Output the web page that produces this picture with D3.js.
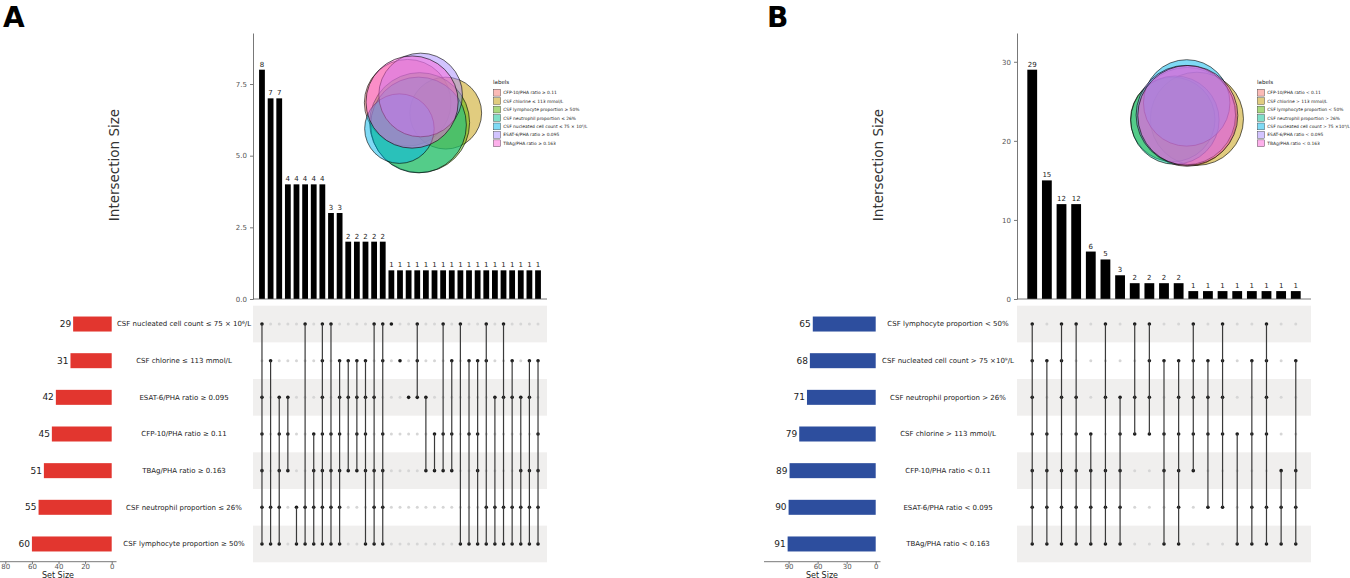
<!DOCTYPE html>
<html>
<head>
<meta charset="utf-8">
<script src="https://cdn.jsdelivr.net/npm/d3@7"></script>
<style>
body { margin: 0; background: #fff; }
text { font-family: "DejaVu Sans", Verdana, sans-serif; }
</style>
</head>
<body>
<svg width="1350" height="578"></svg>
<script>
// panel A : rows of the matrix, top to bottom
var setNamesA = ["CSF nucleated cell count \u2264 75 \u00d7 10\u2076/L", "CSF chlorine \u2264 113 mmol/L",
	"ESAT-6/PHA ratio \u2265 0.095", "CFP-10/PHA ratio \u2265 0.11", "TBAg/PHA ratio \u2265 0.163",
	"CSF neutrophil proportion \u2264 26%", "CSF lymphocyte proportion \u2265 50%"];
var setSizesA = [29, 31, 42, 45, 51, 55, 60];
var interCountsA = [8, 7, 7, 4, 4, 4, 4, 4, 3, 3, 2, 2, 2, 2, 2,
	1, 1, 1, 1, 1, 1, 1, 1, 1, 1, 1, 1, 1, 1, 1, 1, 1, 1];
var interSetsA = [
	[0,2,3,4,5,6], [1,5,6], [2,3,4,5,6], [2,3,4], [5,6], [0,5,6], [3,4,5,6], [0,1,2,3,4,5,6],
	[0,3,4,5,6], [1,2,3,4,5,6], [1,2,4], [1,2,3,4], [1,2,3,4,6], [0,2,4,5,6], [0,1,3,4,5,6],
	[0], [1], [2], [0,1,2], [2,4], [3,4], [0,3,4], [1,3,4], [0,6], [1,3,6], [1,3,4,6],
	[0,1,5,6], [2,5,6], [0,2,5,6], [1,2,5,6], [2,4,5,6], [1,2,4,5,6], [1,3,4,5,6]];
var yTicksA = [0, 2.5, 5, 7.5];
var sizeTicksA = [0, 20, 40, 60, 80];

// panel B
var setNamesB = ["CSF lymphocyte proportion < 50%", "CSF nucleated cell count > 75 \u00d710\u2079/L",
	"CSF neutrophil proportion > 26%", "CSF chlorine > 113 mmol/L", "CFP-10/PHA ratio < 0.11",
	"ESAT-6/PHA ratio < 0.095", "TBAg/PHA ratio < 0.163"];
var setSizesB = [65, 68, 71, 79, 89, 90, 91];
var interCountsB = [29, 15, 12, 12, 6, 5, 3, 2, 2, 2, 2, 1, 1, 1, 1, 1, 1, 1, 1];
var interSetsB = [
	[0,1,2,3,4,5,6], [1,3,4,5,6], [0,1,2,4,5,6], [0,2,3,4,5,6], [3,4,5,6], [0,2,4,5,6],
	[2,3,4,5,6], [0,2,3], [0,1,2,3], [1,3,4,6], [1,2,3,4,5,6], [0,1,2,3,4], [1,2,3,5],
	[0,1,2,3,5], [3,6], [1,3,5,6], [0,1,2,3,5,6], [4,5,6], [1,4,5,6]];
var yTicksB = [0, 10, 20, 30];
var sizeTicksB = [0, 30, 60, 90];

var hue = ["#F8766D", "#C49A00", "#53B400", "#00C094", "#00B6EB", "#A58AFF", "#FB61D7"];

var panels = [
	{letter: "A", names: setNamesA, sizes: setSizesA, counts: interCountsA, members: interSetsA,
	 yTicks: yTicksA, yFmt: ".1f", sizeTicks: sizeTicksA, sizeMax: 84, barColor: "#e2362f",
	 dx: 0, vennRot: 65, vennFlip: true},
	{letter: "B", names: setNamesB, sizes: setSizesB, counts: interCountsB, members: interSetsB,
	 yTicks: yTicksB, yFmt: "d", sizeTicks: sizeTicksB, sizeMax: 115.4, barColor: "#2d4e9e",
	 dx: 764, vennRot: 180, vennFlip: false}
];

var svg = d3.select("svg");

// --- euler layout: circle areas ~ set sizes, pair overlaps ~ pair counts
function overlapArea(r1, r2, d) {
	if (d >= r1 + r2) return 0;
	if (d <= Math.abs(r1 - r2)) return Math.PI * Math.min(r1, r2) * Math.min(r1, r2);
	var a = r1 * r1 * Math.acos((d * d + r1 * r1 - r2 * r2) / (2 * d * r1));
	var b = r2 * r2 * Math.acos((d * d + r2 * r2 - r1 * r1) / (2 * d * r2));
	var c = 0.5 * Math.sqrt((-d + r1 + r2) * (d + r1 - r2) * (d - r1 + r2) * (d + r1 + r2));
	return a + b - c;
}
function distanceFor(r1, r2, area) {
	var lo = Math.abs(r1 - r2), hi = r1 + r2;
	for (var k = 0; k < 60; k++) {
		var mid = (lo + hi) / 2;
		if (overlapArea(r1, r2, mid) > area) lo = mid; else hi = mid;
	}
	return (lo + hi) / 2;
}
function eulerLayout(sizes, counts, members) {
	var n = sizes.length;
	var r = sizes.map(function(s) { return Math.sqrt(s / Math.PI); });
	var pair = d3.range(n).map(function() { return d3.range(n).map(function() { return 0; }); });
	members.forEach(function(m, c) {
		m.forEach(function(i) { m.forEach(function(j) { if (i !== j) pair[i][j] += counts[c]; }); });
	});
	var dist = pair.map(function(row, i) {
		return row.map(function(v, j) { return i === j ? 0 : distanceFor(r[i], r[j], v); });
	});
	var pos = d3.range(n).map(function(i) {
		return [Math.cos(2 * Math.PI * i / n) * 0.5, Math.sin(2 * Math.PI * i / n) * 0.5];
	});
	for (var it = 0; it < 4000; it++) {
		var gr = pos.map(function() { return [0, 0]; });
		for (var i = 0; i < n; i++) for (var j = i + 1; j < n; j++) {
			var dx = pos[i][0] - pos[j][0], dy = pos[i][1] - pos[j][1];
			var cur = Math.sqrt(dx * dx + dy * dy) + 1e-9;
			var diff = cur - dist[i][j];
			if (pair[i][j] >= Math.min(sizes[i], sizes[j]) && diff < 0) diff = 0;
			if (pair[i][j] === 0 && diff > 0) diff = 0;
			gr[i][0] += diff * dx / cur; gr[i][1] += diff * dy / cur;
			gr[j][0] -= diff * dx / cur; gr[j][1] -= diff * dy / cur;
		}
		pos.forEach(function(q, i) { q[0] -= 0.08 * gr[i][0]; q[1] -= 0.08 * gr[i][1]; });
	}
	return {r: r, pos: pos};
}

panels.forEach(function(p) {
	var g = svg.append("g").attr("transform", "translate(" + p.dx + ",0)");
	var n = p.counts.length;
	var x = d3.scalePoint().domain(d3.range(n)).range([253, 547]).padding(1.04);
	var rowY = d3.scaleBand().domain(d3.range(p.names.length)).range([305.7, 562.3]);
	var y = d3.scaleLinear().domain([0, d3.max(p.counts) * 1.16]).range([299, 33]);
	var sx = d3.scaleLinear().domain([0, p.sizeMax]).range([111.7, 0]);
	var barW = x.step() * 0.67;

	// shaded rows
	g.selectAll(".band").data(rowY.domain().filter(function(i) { return i % 2 === 0; }))
		.enter().append("rect")
		.attr("x", 253).attr("width", 294)
		.attr("y", function(i) { return rowY(i); })
		.attr("height", rowY.bandwidth())
		.attr("fill", "#f0efee");

	// intersection bars
	g.selectAll(".ibar").data(p.counts).enter().append("rect")
		.attr("x", function(d, i) { return x(i) - barW / 2; })
		.attr("width", barW)
		.attr("y", function(d) { return y(d); })
		.attr("height", function(d) { return y(0) - y(d); })
		.attr("fill", "#000");
	g.selectAll(".ilab").data(p.counts).enter().append("text")
		.attr("x", function(d, i) { return x(i); })
		.attr("y", function(d) { return y(d) - 3; })
		.attr("text-anchor", "middle")
		.attr("font-size", 7).attr("fill", "#222")
		.text(function(d) { return d; });

	var yAxis = g.append("g").attr("transform", "translate(253,0)")
		.call(d3.axisLeft(y).tickValues(p.yTicks).tickFormat(d3.format(p.yFmt)).tickSize(3).tickSizeOuter(0));
	yAxis.selectAll("path,line").attr("stroke", "#555").attr("stroke-width", 0.8);
	yAxis.selectAll("text").attr("font-size", 7).attr("fill", "#555").attr("font-family", null);
	g.append("line").attr("x1", 253).attr("x2", 547).attr("y1", y(0)).attr("y2", y(0))
		.attr("stroke", "#555").attr("stroke-width", 0.8);

	g.append("text")
		.attr("transform", "translate(119,165) rotate(-90)")
		.attr("text-anchor", "middle")
		.attr("font-size", 13.5).attr("fill", "#333")
		.text("Intersection Size");

	// matrix
	var cols = g.selectAll(".col").data(p.members).enter().append("g");
	cols.each(function(m, i) {
		var c = d3.select(this);
		c.selectAll("circle").data(rowY.domain()).enter().append("circle")
			.attr("cx", x(i))
			.attr("cy", function(r) { return rowY(r) + rowY.bandwidth() / 2; })
			.attr("r", function(r) { return m.indexOf(r) >= 0 ? 1.8 : 1.5; })
			.attr("fill", function(r) { return m.indexOf(r) >= 0 ? "#1a1a1a" : "#d6d6d6"; });
		if (m.length > 1) {
			c.append("line")
				.attr("x1", x(i)).attr("x2", x(i))
				.attr("y1", rowY(d3.min(m)) + rowY.bandwidth() / 2)
				.attr("y2", rowY(d3.max(m)) + rowY.bandwidth() / 2)
				.attr("stroke", "#3a3a3a").attr("stroke-width", 1.2);
		}
	});

	// set size bars
	g.selectAll(".sbar").data(p.sizes).enter().append("rect")
		.attr("x", function(d) { return sx(d); })
		.attr("width", function(d) { return sx(0) - sx(d); })
		.attr("y", function(d, i) { return rowY(i) + rowY.bandwidth() / 2 - 7.5; })
		.attr("height", 15)
		.attr("fill", p.barColor);
	g.selectAll(".slab").data(p.sizes).enter().append("text")
		.attr("x", function(d) { return sx(d) - 2; })
		.attr("y", function(d, i) { return rowY(i) + rowY.bandwidth() / 2; })
		.attr("dy", "0.35em")
		.attr("text-anchor", "end")
		.attr("font-size", 9).attr("fill", "#222")
		.text(function(d) { return d; });
	var sAxis = g.append("g").attr("transform", "translate(0,561.7)")
		.call(d3.axisBottom(sx).tickValues(p.sizeTicks).tickSize(2.5));
	sAxis.select(".domain").remove();
	sAxis.selectAll("line").attr("stroke", "#555").attr("stroke-width", 0.8);
	sAxis.selectAll("text").attr("font-size", 7).attr("fill", "#555").attr("font-family", null)
		.attr("y", 2.5).attr("dy", "0.71em");
	g.append("line").attr("x1", sx(p.sizeMax)).attr("x2", 116.5).attr("y1", 561.7).attr("y2", 561.7)
		.attr("stroke", "#555").attr("stroke-width", 0.8);
	g.append("text").attr("x", 58).attr("y", 577.5).attr("text-anchor", "middle")
		.attr("font-size", 8).attr("fill", "#222").text("Set Size");

	// set names
	g.selectAll(".sname").data(p.names).enter().append("text")
		.attr("x", 184)
		.attr("y", function(d, i) { return rowY(i) + rowY.bandwidth() / 2; })
		.attr("dy", "0.35em")
		.attr("text-anchor", "middle")
		.attr("font-size", 7).attr("fill", "#222")
		.text(function(d) { return d; });

	// euler diagram + legend
	var order = d3.range(p.names.length).sort(function(a, b) { return d3.ascending(p.names[a], p.names[b]); });
	var L = eulerLayout(p.sizes, p.counts, p.members);
	var rot = p.vennRot * Math.PI / 180, fy = p.vennFlip ? -1 : 1;
	var pts = L.pos.map(function(q) {
		var qx = q[0], qy = q[1] * fy;
		return [qx * Math.cos(rot) - qy * Math.sin(rot), qx * Math.sin(rot) + qy * Math.cos(rot)];
	});
	var k = 50 / d3.max(L.r);
	var x0 = d3.min(pts, function(q, i) { return q[0] - L.r[i]; }), x1 = d3.max(pts, function(q, i) { return q[0] + L.r[i]; });
	var y0 = d3.min(pts, function(q, i) { return q[1] - L.r[i]; }), y1 = d3.max(pts, function(q, i) { return q[1] + L.r[i]; });
	var ox = 423 - k * (x0 + x1) / 2, oy = 113 - k * (y0 + y1) / 2;
	order.forEach(function(si, li) {
		g.append("circle")
			.attr("cx", ox + k * pts[si][0]).attr("cy", oy + k * pts[si][1]).attr("r", k * L.r[si])
			.attr("fill", hue[li]).attr("fill-opacity", 0.5)
			.attr("stroke", "#000").attr("stroke-width", 0.6);
	});
	g.append("text").attr("x", 493).attr("y", 84).attr("font-size", 5.5).attr("fill", "#222").text("labels");
	var leg = g.selectAll(".leg").data(order).enter().append("g")
		.attr("transform", function(d, i) { return "translate(493.3," + (92.7 + 8.43 * i) + ")"; });
	leg.append("rect").attr("x", 0).attr("y", -3.4).attr("width", 7.3).attr("height", 6.8)
		.attr("fill", function(d, i) { return hue[i]; }).attr("fill-opacity", 0.5)
		.attr("stroke", "#333").attr("stroke-width", 0.4);
	leg.append("text").attr("x", 10).attr("dy", "0.35em").attr("font-size", 4.4).attr("fill", "#222")
		.text(function(d) { return p.names[d]; });

	g.append("text").attr("x", 3).attr("y", 27)
		.attr("font-family", "Liberation Sans, Arial, sans-serif")
		.attr("font-weight", "bold").attr("font-size", 28).attr("fill", "#000")
		.text(p.letter);
});
</script>
</body>
</html>
